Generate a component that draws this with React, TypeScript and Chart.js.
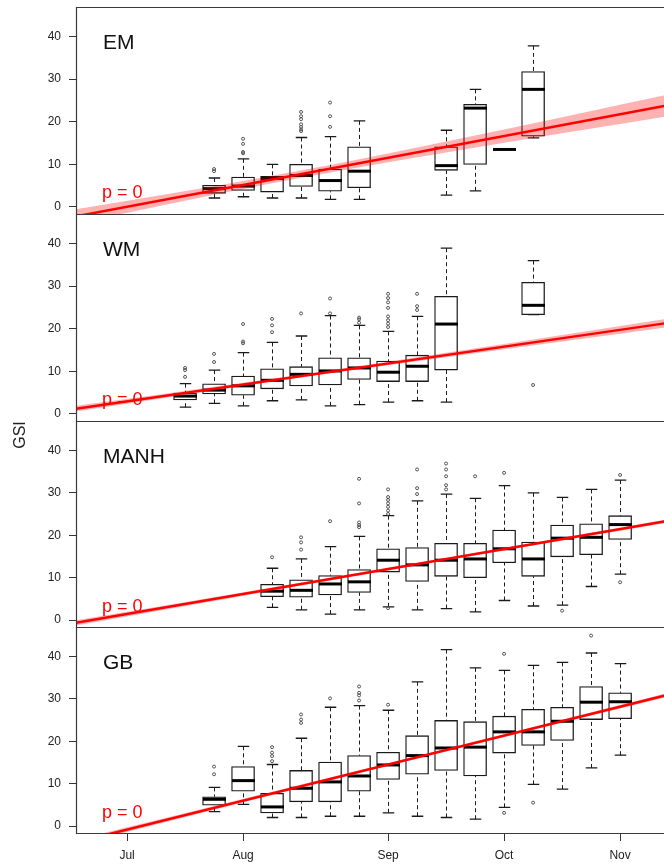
import React, { useEffect, useRef } from 'react';
import { Chart, registerables } from 'chart.js';

Chart.register(...registerables);

const FONT = "'Liberation Sans', Arial, Helvetica, sans-serif";

// ---- axes (x = week index, months labelled) ----
const xMin = -3.76;
const xMax = 17.41;
const yMin = -1.65;
const yMax = 46.93;
const yTickValues = [0, 10, 20, 30, 40];
const monthTickValues = [-2, 2, 7, 11, 15];
const monthTickLabels = ['Jul', 'Aug', 'Sep', 'Oct', 'Nov'];
const panelNames = ['EM', 'WM', 'MANH', 'GB'];
const pLabel = 'p = 0';
const yTitle = 'GSI';

// ---- EM ----
const emWeek = [1, 2, 3, 4, 5, 6, 9, 10, 11, 12];
const emMin = [2.1, 2.4, 2.1, 2.1, 1.8, 1.8, 2.8, 3.8, 13.5, 16.2];
const emQ1 = [3.2, 3.9, 3.5, 4.8, 3.7, 4.5, 8.6, 10.0, 13.5, 16.6];
const emMed = [4.3, 4.9, 6.7, 7.4, 6.2, 8.4, 9.7, 23.2, 13.5, 27.6];
const emQ3 = [5.1, 7.0, 7.2, 10.0, 8.9, 14.1, 14.1, 24.1, 13.5, 31.8];
const emMax = [6.8, 11.3, 10.0, 16.3, 16.5, 20.2, 18.0, 27.6, 13.5, 37.8];
const emOutWeek = [1, 1, 2, 2, 2, 2, 4, 4, 4, 4, 4, 4, 4, 5, 5, 5];
const emOutVal = [8.9, 8.4, 16.0, 14.8, 12.9, 12.6, 22.3, 21.3, 20.6, 19.4, 18.8, 18.2, 17.8, 24.5, 21.3, 18.8];

// ---- WM ----
const wmWeek = [0, 1, 2, 3, 4, 5, 6, 7, 8, 9, 12];
const wmMin = [1.6, 2.5, 1.9, 3.1, 3.3, 1.9, 2.2, 2.8, 3.1, 2.8, 23.3];
const wmQ1 = [3.3, 4.7, 4.4, 5.9, 6.6, 6.8, 8.1, 7.6, 7.6, 10.3, 23.3];
const wmMed = [4.2, 5.6, 6.6, 7.9, 9.3, 10.1, 10.8, 9.8, 11.2, 21.1, 25.5];
const wmQ3 = [4.9, 7.1, 8.9, 10.6, 11.1, 13.2, 13.2, 12.4, 13.8, 27.6, 30.9];
const wmMax = [7.1, 10.3, 14.4, 16.8, 18.3, 23.1, 20.8, 19.4, 22.9, 38.9, 36.0];
const wmOutWeek = [0, 0, 0, 1, 1, 2, 2, 2, 3, 3, 3, 4, 5, 5, 6, 6, 6, 7, 7, 7, 7, 7, 7, 7, 7, 8, 8, 8, 12];
const wmOutVal = [10.8, 10.3, 8.7, 14.1, 12.2, 21.1, 17.0, 16.6, 22.3, 20.8, 19.2, 23.6, 27.1, 23.6, 22.6, 22.2, 21.4, 28.2, 27.2, 26.2, 24.9, 22.9, 22.0, 21.2, 20.4, 28.2, 25.3, 24.4, 6.8];

// ---- MANH ----
const mnWeek = [3, 4, 5, 6, 7, 8, 9, 10, 11, 12, 13, 14, 15];
const mnMin = [3.0, 2.4, 1.4, 2.4, 3.1, 2.4, 2.7, 1.9, 4.6, 3.3, 3.5, 7.9, 10.8];
const mnQ1 = [5.5, 5.4, 5.9, 6.5, 11.3, 9.1, 10.3, 10.0, 13.5, 10.3, 14.9, 15.4, 19.0];
const mnMed = [6.8, 7.0, 8.5, 9.0, 14.1, 13.0, 14.1, 14.4, 16.8, 14.4, 19.3, 19.5, 22.5];
const mnQ3 = [8.4, 9.5, 10.5, 11.9, 16.8, 17.1, 18.1, 18.1, 21.2, 18.4, 22.4, 22.7, 24.6];
const mnMax = [12.2, 14.4, 17.3, 19.7, 24.6, 28.1, 29.7, 28.7, 31.7, 30.0, 28.9, 30.8, 33.0];
const mnOutWeek = [3, 4, 4, 4, 5, 6, 6, 6, 6, 6, 7, 7, 7, 7, 7, 7, 7, 7, 8, 8, 8, 9, 9, 9, 9, 9, 10, 11, 13, 15, 15];
const mnOutVal = [14.8, 19.5, 18.3, 16.6, 23.3, 33.3, 27.5, 23.0, 22.4, 21.9, 30.8, 29.0, 28.3, 27.5, 26.7, 25.8, 25.0, 2.8, 35.5, 31.1, 29.7, 36.9, 35.5, 33.9, 31.8, 30.8, 33.9, 34.7, 2.2, 34.2, 8.9];

// ---- GB ----
const gbWeek = [1, 2, 3, 4, 5, 6, 7, 8, 9, 10, 11, 12, 13, 14, 15];
const gbMin = [3.4, 5.1, 2.0, 2.0, 2.3, 2.3, 3.1, 2.3, 2.0, 1.6, 4.4, 9.8, 8.7, 13.7, 16.7];
const gbQ1 = [4.9, 8.2, 3.1, 5.7, 5.7, 8.2, 11.0, 12.2, 13.1, 11.8, 17.2, 19.0, 20.2, 25.1, 25.3];
const gbMed = [6.3, 10.7, 4.5, 8.9, 10.4, 11.8, 14.4, 16.6, 18.4, 18.6, 22.2, 22.2, 24.7, 29.2, 29.3];
const gbQ3 = [6.9, 14.0, 7.7, 13.1, 15.1, 16.6, 17.4, 21.3, 24.9, 24.6, 25.9, 27.5, 28.0, 32.9, 31.4];
const gbMax = [9.1, 18.8, 14.5, 20.7, 28.0, 28.4, 27.3, 34.0, 41.6, 37.3, 36.7, 37.9, 38.6, 40.8, 38.3];
const gbOutWeek = [1, 1, 3, 3, 3, 3, 4, 4, 4, 5, 6, 6, 6, 6, 7, 11, 11, 12, 14];
const gbOutVal = [14.0, 12.2, 18.6, 17.3, 16.5, 15.3, 26.3, 25.1, 24.3, 30.1, 32.9, 31.4, 30.8, 29.6, 28.6, 40.6, 3.1, 5.5, 44.9];

// ---- regression lines and confidence bands ----
const trendX = [-3.76, 17.07];
const emTrend = [-2.2, 24.38];
const wmTrend = [1.25, 21.79];
const mnTrend = [-0.67, 23.86];
const gbTrend = [-3.85, 31.66];
const bandX = [-3.76, -1, 1, 3, 5, 7, 9, 11, 13, 15, 17.07];
const emBandHi = [-0.51, 2.59, 4.89, 7.3, 9.85, 12.55, 15.35, 18.2, 21.08, 23.98, 26.98];
const emBandLo = [-3.89, 0.05, 2.85, 5.56, 8.11, 10.51, 12.81, 15.06, 17.3, 19.5, 21.78];
const wmBandHi = [1.93, 4.48, 6.36, 8.28, 10.25, 12.28, 14.34, 16.43, 18.54, 20.65, 22.83];
const wmBandLo = [0.57, 3.46, 5.52, 7.56, 9.53, 11.44, 13.32, 15.17, 17.02, 18.85, 20.75];
const mnBandHi = [-0.07, 3.08, 5.37, 7.67, 9.97, 12.3, 14.63, 17.0, 19.37, 21.78, 24.27];
const mnBandLo = [-1.27, 2.08, 4.49, 6.91, 9.31, 11.7, 14.07, 16.42, 18.75, 21.06, 23.45];
const gbBandHi = [-3.25, 1.36, 4.7, 8.05, 11.42, 14.8, 18.21, 21.63, 25.07, 28.53, 32.13];
const gbBandLo = [-4.45, 0.36, 3.84, 7.31, 10.76, 14.2, 17.61, 21.01, 24.39, 27.73, 31.19];

type Panel = {
  name: string; week: number[]; min: number[]; q1: number[]; med: number[]; q3: number[]; max: number[];
  outWeek: number[]; outVal: number[]; trend: number[]; bandHi: number[]; bandLo: number[];
};

const panels: Panel[] = [
  { name: panelNames[0], week: emWeek, min: emMin, q1: emQ1, med: emMed, q3: emQ3, max: emMax, outWeek: emOutWeek, outVal: emOutVal, trend: emTrend, bandHi: emBandHi, bandLo: emBandLo },
  { name: panelNames[1], week: wmWeek, min: wmMin, q1: wmQ1, med: wmMed, q3: wmQ3, max: wmMax, outWeek: wmOutWeek, outVal: wmOutVal, trend: wmTrend, bandHi: wmBandHi, bandLo: wmBandLo },
  { name: panelNames[2], week: mnWeek, min: mnMin, q1: mnQ1, med: mnMed, q3: mnQ3, max: mnMax, outWeek: mnOutWeek, outVal: mnOutVal, trend: mnTrend, bandHi: mnBandHi, bandLo: mnBandLo },
  { name: panelNames[3], week: gbWeek, min: gbMin, q1: gbQ1, med: gbMed, q3: gbQ3, max: gbMax, outWeek: gbOutWeek, outVal: gbOutVal, trend: gbTrend, bandHi: gbBandHi, bandLo: gbBandLo },
];

// ---- layout ----
const PANEL_TOP = [7, 214, 421, 627];
const PANEL_H = [207, 207, 206, 206];
const PAD = 4;
const CANVAS_W = 690;
const PLOT_LEFT = 76;
const X_AXIS_H = 32;
const BOX_W = 23;
const INK = '#1a1a1a';

function canvasHeight(k: number) {
  return PAD + PANEL_H[k] + (k === 3 ? X_AXIS_H : PAD);
}

export default function App() {
  const refs = useRef<(HTMLCanvasElement | null)[]>([]);

  useEffect(() => {
    const charts: Chart[] = [];
    panels.forEach((p, k) => {
      const canvas = refs.current[k];
      if (!canvas) return;
      const isBottom = k === 3;

      const boxPlugin = {
        id: 'boxWhiskers' + k,
        afterDatasetDraw(chart: any, args: any) {
          if (args.index !== 0) return;
          const { ctx, chartArea } = chart;
          const x = chart.scales.x;
          const y = chart.scales.y;
          ctx.save();
          ctx.beginPath();
          ctx.rect(chartArea.left, chartArea.top, chartArea.right - chartArea.left, chartArea.bottom - chartArea.top);
          ctx.clip();
          const half = BOX_W / 2;
          const cap = BOX_W / 4;
          p.week.forEach((w, i) => {
            const cx = Math.round(x.getPixelForValue(w)) + 0.5;
            ctx.strokeStyle = INK;
            ctx.lineWidth = 1;
            ctx.setLineDash([4, 3]);
            ctx.beginPath();
            if (p.max[i] > p.q3[i]) {
              ctx.moveTo(cx, y.getPixelForValue(p.max[i]));
              ctx.lineTo(cx, y.getPixelForValue(p.q3[i]));
            }
            if (p.min[i] < p.q1[i]) {
              ctx.moveTo(cx, y.getPixelForValue(p.min[i]));
              ctx.lineTo(cx, y.getPixelForValue(p.q1[i]));
            }
            ctx.stroke();
            ctx.setLineDash([]);
            ctx.lineWidth = 1.3;
            ctx.beginPath();
            [p.max[i], p.min[i]].forEach((v) => {
              const py = y.getPixelForValue(v);
              ctx.moveTo(cx - cap, py);
              ctx.lineTo(cx + cap, py);
            });
            ctx.stroke();
            ctx.strokeStyle = '#000';
            ctx.lineWidth = 3;
            ctx.lineCap = 'butt';
            ctx.beginPath();
            const my = y.getPixelForValue(p.med[i]);
            ctx.moveTo(cx - half, my);
            ctx.lineTo(cx + half, my);
            ctx.stroke();
          });
          ctx.restore();
        },
      };

      const framePlugin = {
        id: 'frame' + k,
        afterDraw(chart: any) {
          const { ctx, chartArea } = chart;
          const l = Math.round(chartArea.left) + 0.5;
          const t = Math.round(chartArea.top) + 0.5;
          const r = Math.round(chartArea.right) + 0.5;
          const b = Math.round(chartArea.bottom) + 0.5;
          ctx.save();
          ctx.strokeStyle = '#3a3a3a';
          ctx.lineWidth = 1.2;
          ctx.beginPath();
          if (k === 0) { ctx.moveTo(r, t); ctx.lineTo(l, t); } else { ctx.moveTo(l, t); }
          ctx.lineTo(l, b);
          ctx.lineTo(r, b);
          ctx.stroke();
          ctx.restore();
        },
      };

      const boxes = p.week.map((w, i) => ({ x: w, y: [p.q1[i], p.q3[i]] }));
      const outliers = p.outWeek.map((w, i) => ({ x: w, y: p.outVal[i] }));
      const bandHi = bandX.map((w, i) => ({ x: w, y: p.bandHi[i] }));
      const bandLo = bandX.map((w, i) => ({ x: w, y: p.bandLo[i] }));
      const trend = trendX.map((w, i) => ({ x: w, y: p.trend[i] }));

      const chart = new Chart(canvas, {
        type: 'bar',
        data: {
          datasets: [
            { type: 'bar', data: boxes as any, backgroundColor: '#ffffff', borderColor: INK, borderWidth: 1.3, borderSkipped: false, barThickness: BOX_W, order: 5 } as any,
            { type: 'line', data: bandHi, fill: '+1', backgroundColor: 'rgba(255,0,0,0.3)', borderColor: 'rgba(0,0,0,0)', borderWidth: 0, pointRadius: 0, order: 4, clip: 0 } as any,
            { type: 'line', data: bandLo, fill: false, borderColor: 'rgba(0,0,0,0)', borderWidth: 0, pointRadius: 0, order: 3, clip: 0 } as any,
            { type: 'scatter', data: outliers, pointRadius: 1.5, pointBorderWidth: 0.9, pointBorderColor: '#444', pointBackgroundColor: 'rgba(0,0,0,0)', order: 2 } as any,
            { type: 'line', data: trend, borderColor: '#ff0000', borderWidth: 2.5, pointRadius: 0, fill: false, order: 1, clip: 0 } as any,
          ],
        },
        options: {
          animation: false,
          responsive: false,
          events: [],
          layout: { autoPadding: false, padding: { top: PAD, bottom: isBottom ? 0 : PAD, left: 0, right: 0 } },
          plugins: { legend: { display: false }, tooltip: { enabled: false } },
          scales: {
            x: {
              type: 'linear', min: xMin, max: xMax, offset: false, display: isBottom,
              afterBuildTicks: (s: any) => { s.ticks = monthTickValues.map((v) => ({ value: v })); },
              afterFit: (s: any) => {
                s.height = isBottom ? X_AXIS_H : 0;
                s.paddingLeft = 0; s.paddingRight = 0; s.paddingTop = 0; s.paddingBottom = 0;
              },
              ticks: {
                autoSkip: false, maxRotation: 0, padding: 7, color: '#222', font: { family: FONT, size: 12 },
                callback: (v: any) => { const i = monthTickValues.indexOf(Number(v)); return i >= 0 ? monthTickLabels[i] : ''; },
              },
              grid: { offset: false, drawOnChartArea: false, drawTicks: true, tickLength: 8, color: '#333' },
              border: { display: false },
            },
            y: {
              type: 'linear', position: 'left', min: yMin, max: yMax,
              afterBuildTicks: (s: any) => { s.ticks = yTickValues.map((v) => ({ value: v })); },
              afterFit: (s: any) => {
                s.width = PLOT_LEFT;
                s.paddingLeft = 0; s.paddingRight = 0; s.paddingTop = 0; s.paddingBottom = 0;
              },
              ticks: { padding: 8, color: '#222', font: { family: FONT, size: 12 } },
              grid: { offset: false, drawOnChartArea: false, drawTicks: true, tickLength: 7, color: '#333' },
              border: { display: false },
            },
          },
        } as any,
        plugins: [boxPlugin, framePlugin],
      });
      charts.push(chart);
    });
    return () => { charts.forEach((c) => c.destroy()); };
  }, []);

  return (
    <div style={{ position: 'fixed', left: 0, top: 0, width: 664, height: 865, overflow: 'hidden', background: '#ffffff', fontFamily: FONT }}>
      {panels.map((p, k) => (
        <canvas
          key={'c' + k}
          ref={(el) => { refs.current[k] = el; }}
          width={CANVAS_W}
          height={canvasHeight(k)}
          style={{ position: 'absolute', left: 0, top: PANEL_TOP[k] - PAD, width: CANVAS_W, height: canvasHeight(k) }}
        />
      ))}
      {panels.map((p, k) => (
        <div key={'n' + k} style={{ position: 'absolute', left: 103, top: PANEL_TOP[k] + 24, fontSize: 21, lineHeight: '21px', color: '#111', whiteSpace: 'nowrap' }}>
          {p.name}
        </div>
      ))}
      {panels.map((p, k) => (
        <div key={'p' + k} style={{ position: 'absolute', left: 102, top: PANEL_TOP[k] + 176, fontSize: 18, lineHeight: '18px', color: '#ff0000', whiteSpace: 'nowrap' }}>
          {pLabel}
        </div>
      ))}
      <div style={{ position: 'absolute', left: 20, top: 435, transform: 'translate(-50%, -50%) rotate(-90deg)', fontSize: 16, lineHeight: '16px', color: '#222', whiteSpace: 'nowrap' }}>
        {yTitle}
      </div>
    </div>
  );
}
